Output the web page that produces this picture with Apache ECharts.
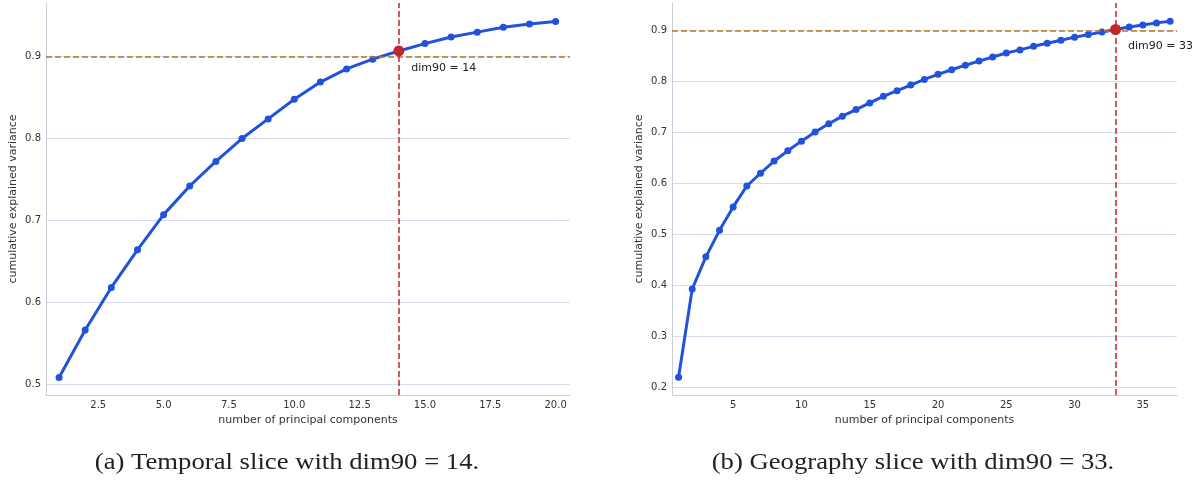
<!DOCTYPE html>
<html style="height: 100%">
<head>
<meta charset="utf-8">
<style type="text/css">
  body, html, #main { width: 100%; height: 100%; margin: 0; overflow: hidden; background: #fff; }
</style>
</head>
<body>
<div id="main"></div>
<script type="text/javascript" src="https://cdn.jsdelivr.net/npm/echarts@6/dist/echarts.min.js"></script>
<script type="text/javascript">
// (a) temporal slice
var temporalX = [1,2,3,4,5,6,7,8,9,10,11,12,13,14,15,16,17,18,19,20];
var temporalY = [0.508,0.566,0.618,0.664,0.707,0.742,0.772,0.800,0.824,0.848,
                 0.869,0.885,0.897,0.907,0.916,0.924,0.930,0.936,0.940,0.943];
var temporalDim = 14;
var temporalXTicks = [2.5,5,7.5,10,12.5,15,17.5,20];
var temporalYTicks = [0.5,0.6,0.7,0.8,0.9];

// (b) geography slice
var geoX = [1,2,3,4,5,6,7,8,9,10,11,12,13,14,15,16,17,18,19,20,
            21,22,23,24,25,26,27,28,29,30,31,32,33,34,35,36,37];
var geoY = [0.220,0.393,0.456,0.508,0.554,0.595,0.620,0.644,0.664,0.683,
            0.701,0.717,0.732,0.745,0.758,0.771,0.782,0.793,0.804,0.814,
            0.823,0.832,0.840,0.848,0.856,0.862,0.869,0.875,0.881,0.887,
            0.892,0.897,0.902,0.907,0.911,0.915,0.918];
var geoDim = 33;
var geoXTicks = [5,10,15,20,25,30,35];
var geoYTicks = [0.2,0.3,0.4,0.5,0.6,0.7,0.8,0.9];

var threshold = 0.9;
var captions = ['(a) Temporal slice with dim90 = 14.', '(b) Geography slice with dim90 = 33.'];

var textColor = '#333333';
var gridColor = '#d9dcec';
var spineColor = '#c9cdd9';
var blue = '#2152dc';
var orange = '#bf7417';
var red = '#c0262d';

function pairs(xs, ys) {
  var out = [];
  for (var i = 0; i < xs.length; i++) out.push([xs[i], ys[i]]);
  return out;
}

function xAxisOpt(idx, min, max, ticks, digits) {
  return {
    gridIndex: idx, type: 'value', min: min, max: max,
    name: 'number of principal components', nameLocation: 'middle', nameGap: 18,
    nameTextStyle: { color: textColor, fontSize: 11, fontFamily: 'DejaVu Sans' },
    axisLine: { show: true, lineStyle: { color: spineColor, width: 1 } },
    axisTick: { show: false, customValues: ticks },
    axisLabel: { customValues: ticks, color: textColor, fontSize: 10, fontFamily: 'DejaVu Sans', margin: 5,
      formatter: function (v) { return v.toFixed(digits); } },
    splitLine: { show: false }
  };
}

function yAxisOpt(idx, min, max, ticks) {
  return {
    gridIndex: idx, type: 'value', min: min, max: max,
    name: 'cumulative explained variance', nameLocation: 'middle', nameGap: 27,
    nameTextStyle: { color: textColor, fontSize: 11, fontFamily: 'DejaVu Sans' },
    axisLine: { show: true, lineStyle: { color: spineColor, width: 1 } },
    axisTick: { show: false, customValues: ticks },
    axisLabel: { customValues: ticks, color: textColor, fontSize: 10, fontFamily: 'DejaVu Sans', margin: 5,
      formatter: function (v) { return v.toFixed(1); } },
    splitLine: { show: true, lineStyle: { color: gridColor, width: 1 } }
  };
}

function curveSeries(idx, xs, ys, dim) {
  return {
    type: 'line', xAxisIndex: idx, yAxisIndex: idx,
    data: pairs(xs, ys),
    symbol: 'circle', symbolSize: 7,
    itemStyle: { color: blue },
    lineStyle: { color: blue, width: 3 },
    silent: true, animation: false, z: 3,
    markLine: {
      silent: true, symbol: 'none', animation: false,
      label: { show: false },
      data: [
        { yAxis: threshold, lineStyle: { color: orange, type: [6, 3], width: 1.5, opacity: 1 } },
        { xAxis: dim, lineStyle: { color: red, type: [6, 3], width: 1.5, opacity: 1 } }
      ]
    }
  };
}

function dimSeries(idx, xs, ys, dim) {
  var i = xs.indexOf(dim);
  return {
    type: 'scatter', xAxisIndex: idx, yAxisIndex: idx,
    data: [[xs[i], ys[i]]],
    symbol: 'circle', symbolSize: 11,
    itemStyle: { color: red, opacity: 1 },
    label: { show: true, position: [18, 17], formatter: 'dim90 = ' + dim,
      color: '#222', fontSize: 11, fontFamily: 'DejaVu Sans' },
    silent: true, animation: false, z: 5
  };
}

var chart = echarts.init(document.getElementById('main'));
chart.setOption({
  backgroundColor: '#ffffff',
  animation: false,
  grid: [
    { left: 46, top: 3, width: 524, height: 392 },
    { left: 672, top: 3, width: 505, height: 392 }
  ],
  xAxis: [
    xAxisOpt(0, 0.5, 20.55, temporalXTicks, 1),
    xAxisOpt(1, 0.52, 37.5, geoXTicks, 0)
  ],
  yAxis: [
    yAxisOpt(0, 0.4866, 0.9656, temporalYTicks),
    yAxisOpt(1, 0.185, 0.954, geoYTicks)
  ],
  series: [
    curveSeries(0, temporalX, temporalY, temporalDim),
    dimSeries(0, temporalX, temporalY, temporalDim),
    curveSeries(1, geoX, geoY, geoDim),
    dimSeries(1, geoX, geoY, geoDim)
  ],
  graphic: [
    { type: 'text', x: 287, y: 463, scaleX: 1.16, silent: true,
      style: { text: captions[0], fill: '#222', font: '23px "Liberation Serif"', textAlign: 'center', textVerticalAlign: 'middle' } },
    { type: 'text', x: 913, y: 463, scaleX: 1.16, silent: true,
      style: { text: captions[1], fill: '#222', font: '23px "Liberation Serif"', textAlign: 'center', textVerticalAlign: 'middle' } }
  ]
});
</script>
</body>
</html>
